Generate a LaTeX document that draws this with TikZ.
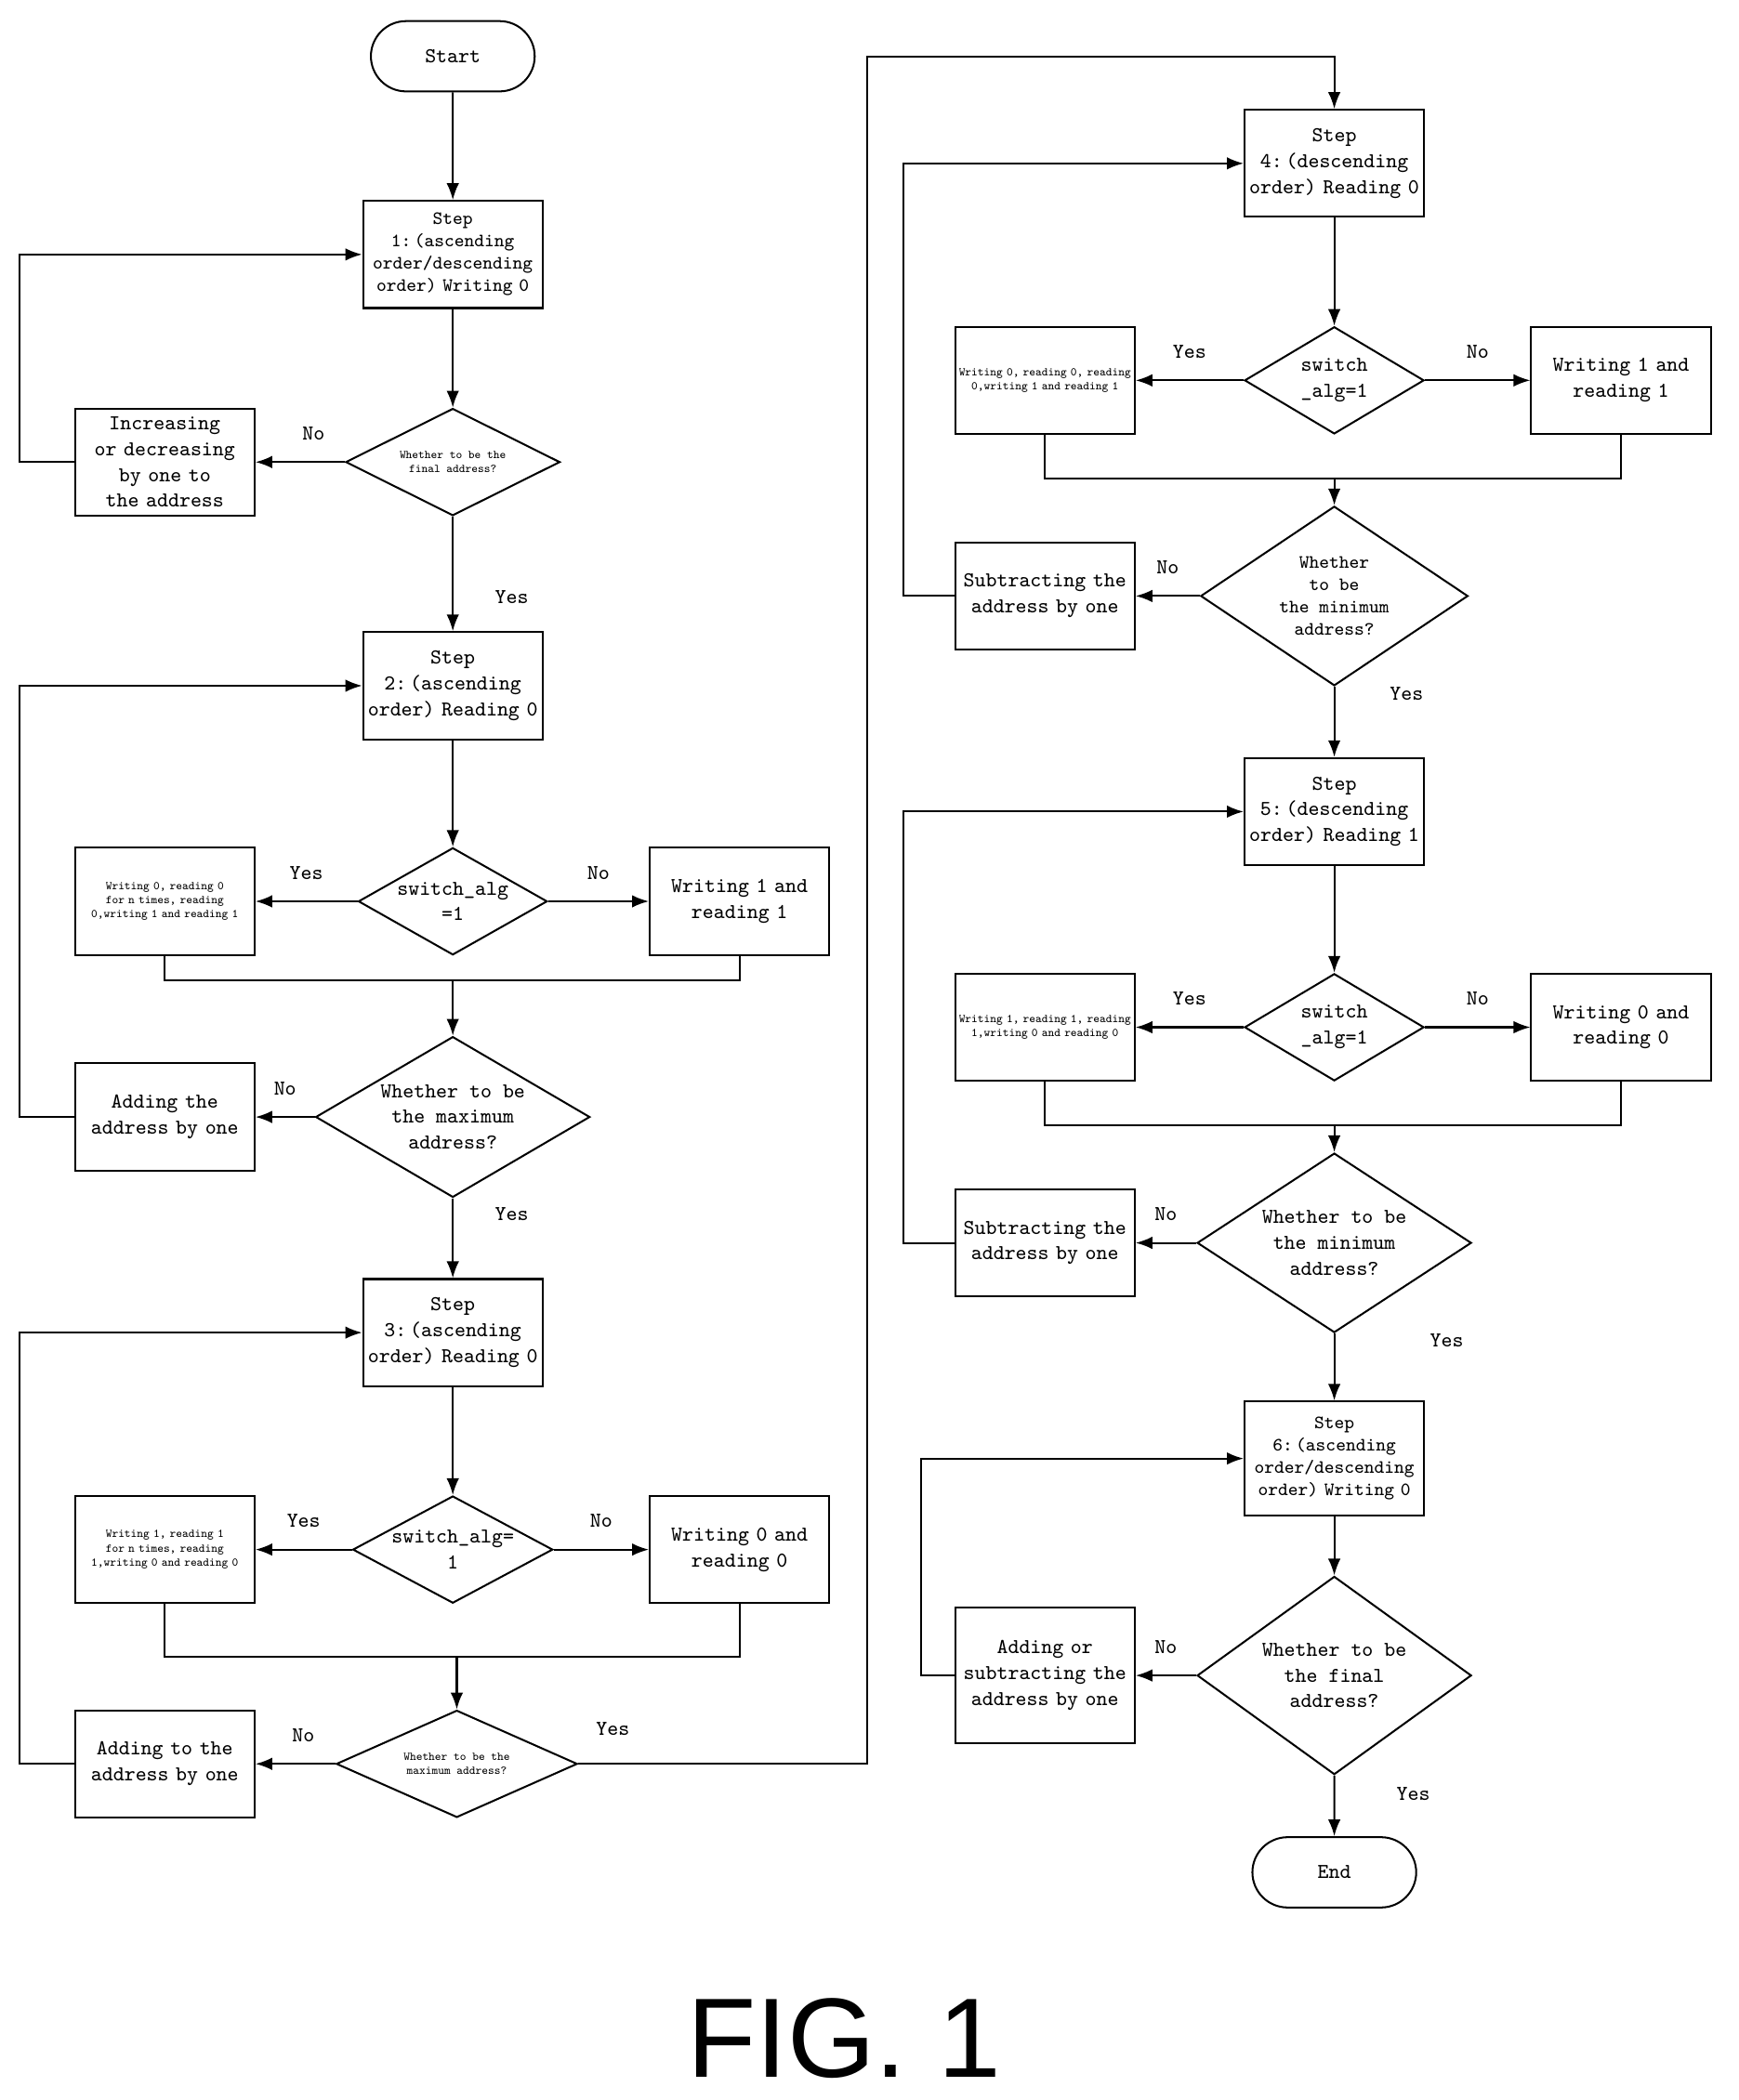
\documentclass[tikz,border=0pt]{standalone}
\usepackage{fontspec}
\newfontfamily\figfont{Liberation Sans}
\usetikzlibrary{arrows.meta,positioning,shapes.geometric,shapes.misc,calc}
\begin{document}
\begin{tikzpicture}[x=0.02cm,y=-0.02cm,font=\ttfamily\small,
	box/.style={draw,thick,minimum width=2.68cm,minimum height=1.6cm,text width=2.62cm,align=center,inner sep=0.5pt},
	small/.style={font=\ttfamily\footnotesize},
	tiny/.style={font=\ttfamily\tiny},
	term/.style={draw,thick,rounded rectangle,minimum width=2.68cm,minimum height=1.05cm},
	dec/.style={draw,thick,diamond,aspect=2,inner sep=0pt,align=center},
	arr/.style={thick,-{Latex[length=2.5mm]}},
	ln/.style={thick},
	lab/.style={font=\ttfamily\small}]
	\useasboundingbox (0,0) rectangle (1298,1568);
	% left column
	\node [term](start_node) at (338,42) {Start};
	\node [box,small](s1_node) at (338,190) {Step\\1:\,(ascending order/descending order) Writing 0};
	\node [dec,minimum width=3.2cm,minimum height=1.6cm,tiny](d1_node) at (338,345) {Whether to be the\\final address?};
	\node [box](inc_node) at (123,345) {Increasing or decreasing by one to the address};
	\node [box](s2_node) at (338,512) {Step\\2:\,(ascending order) Reading 0};
	\node [dec,minimum width=2.68cm,minimum height=1.6cm](sw2_node) at (338,673) {switch\_alg\\=1};
	\node [box,tiny](y2_node) at (123,673) {Writing 0, reading 0 for n times, reading 0,writing 1 and reading 1};
	\node [box](n2_node) at (552,673) {Writing 1 and reading 1};
	\node [dec,minimum width=3.2cm,minimum height=2.4cm](d2_node) at (338,834) {Whether to be\\the maximum\\address?};
	\node [box](add2_node) at (123,834) {Adding the address by one};
	\node [box](s3_node) at (338,995) {Step\\3:\,(ascending order) Reading 0};
	\node [dec,minimum width=2.68cm,minimum height=1.6cm](sw3_node) at (338,1157) {switch\_alg=\\1};
	\node [box,tiny](y3_node) at (123,1157) {Writing 1, reading 1 for n times, reading 1,writing 0 and reading 0};
	\node [box](n3_node) at (552,1157) {Writing 0 and reading 0};
	\node [dec,minimum width=3.6cm,minimum height=1.6cm,tiny](d3_node) at (341,1317) {Whether to be the\\maximum address?};
	\node [box](add3_node) at (123,1317) {Adding to the address by one};
	% right column
	\node [box](s4_node) at (996,122) {Step\\4:\,(descending order) Reading 0};
	\node [dec,minimum width=2.68cm,minimum height=1.6cm](sw4_node) at (996,284) {switch\\\_alg=1};
	\node [box,tiny](y4_node) at (780,284) {Writing 0, reading 0, reading 0,writing 1 and reading 1};
	\node [box](n4_node) at (1210,284) {Writing 1 and reading 1};
	\node [dec,minimum width=3.2cm,minimum height=2.68cm,small](d4_node) at (996,445) {Whether\\to be\\the minimum\\address?};
	\node [box](sub4_node) at (780,445) {Subtracting the address by one};
	\node [box](s5_node) at (996,606) {Step\\5:\,(descending order) Reading 1};
	\node [dec,minimum width=2.68cm,minimum height=1.6cm](sw5_node) at (996,767) {switch\\\_alg=1};
	\node [box,tiny](y5_node) at (780,767) {Writing 1, reading 1, reading 1,writing 0 and reading 0};
	\node [box](n5_node) at (1210,767) {Writing 0 and reading 0};
	\node [dec,minimum width=3.76cm,minimum height=2.68cm](d5_node) at (996,928) {Whether to be\\the minimum\\address?};
	\node [box](sub5_node) at (780,928) {Subtracting the address by one};
	\node [box,minimum height=1.7cm,small](s6_node) at (996,1089) {Step\\6:\,(ascending order/descending order) Writing 0};
	\node [dec,minimum width=3.2cm,minimum height=2.96cm](d6_node) at (996,1251) {Whether to be\\the final\\address?};
	\node [box,minimum height=2.02cm](addsub_node) at (780,1251) {Adding or subtracting the address by one};
	\node [term](end_node) at (996,1398) {End};
	\node [font=\figfont\fontsize{48}{48}\selectfont](fig_node) at (630,1522) {FIG. 1};
	% merge points
	\coordinate (m2) at (338,732);
	\coordinate (m3) at (341,1237);
	\coordinate (m4) at (996,357);
	\coordinate (m5) at (996,840);
	% left connectors
	\draw [arr] (start_node) -- (s1_node);
	\draw [arr] (s1_node) -- (d1_node);
	\draw [arr] (d1_node) -- node [pos=0.35,lab,above=2mm] {No} (inc_node) ;
	\draw [arr] (inc_node.west) -- ++(-41,0) |- (s1_node.west);
	\draw [arr] (d1_node) -- node [pos=0.7,lab,right=5mm] {Yes} (s2_node);
	\draw [arr] (s2_node) -- (sw2_node);
	\draw [arr] (sw2_node) -- node [lab,above=2mm] {Yes} (y2_node);
	\draw [arr] (sw2_node) -- node [lab,above=2mm] {No} (n2_node);
	\draw [ln] (y2_node.south) |- (m2) -| (n2_node.south);
	\draw [arr] (m2) -- (d2_node);
	\draw [arr] (d2_node) -- node [lab,above=2mm] {No} (add2_node);
	\draw [arr] (add2_node.west) -- ++(-41,0) |- (s2_node.west);
	\draw [arr] (d2_node) -- node [pos=0.2,lab,right=5mm] {Yes} (s3_node);
	\draw [arr] (s3_node) -- (sw3_node);
	\draw [arr] (sw3_node) -- node [lab,above=2mm] {Yes} (y3_node);
	\draw [arr] (sw3_node) -- node [lab,above=2mm] {No} (n3_node);
	\draw [ln] (y3_node.south) |- (m3) -| (n3_node.south);
	\draw [arr] (m3) -- (d3_node);
	\draw [arr] (d3_node) -- node [pos=0.4,lab,above=2mm] {No} (add3_node);
	\draw [arr] (add3_node.west) -- ++(-41,0) |- (s3_node.west);
	\draw [arr] (d3_node.east) -- node [pos=0.12,lab,above=3mm] {Yes} (647,1317) |- (996,42) -- (s4_node);
	% right connectors
	\draw [arr] (s4_node) -- (sw4_node);
	\draw [arr] (sw4_node) -- node [lab,above=2mm] {Yes} (y4_node);
	\draw [arr] (sw4_node) -- node [lab,above=2mm] {No} (n4_node);
	\draw [ln] (y4_node.south) |- (m4) -| (n4_node.south);
	\draw [arr] (m4) -- (d4_node);
	\draw [arr] (d4_node) -- node [lab,above=2mm] {No} (sub4_node);
	\draw [arr] (sub4_node.west) -- ++(-38,0) |- (s4_node.west);
	\draw [arr] (d4_node) -- node [pos=0.1,lab,right=7mm] {Yes} (s5_node);
	\draw [arr] (s5_node) -- (sw5_node);
	\draw [arr] (sw5_node) -- node [lab,above=2mm] {Yes} (y5_node);
	\draw [arr] (sw5_node) -- node [lab,above=2mm] {No} (n5_node);
	\draw [ln] (y5_node.south) |- (m5) -| (n5_node.south);
	\draw [arr] (m5) -- (d5_node);
	\draw [arr] (d5_node) -- node [lab,above=2mm] {No} (sub5_node);
	\draw [arr] (sub5_node.west) -- ++(-38,0) |- (s5_node.west);
	\draw [arr] (d5_node) -- node [pos=0.1,lab,right=1.3cm] {Yes} (s6_node);
	\draw [arr] (s6_node) -- (d6_node);
	\draw [arr] (d6_node) -- node [lab,above=2mm] {No} (addsub_node);
	\draw [arr] (addsub_node.west) -- ++(-25,0) |- (s6_node.west);
	\draw [arr] (d6_node) -- node [pos=0.3,lab,right=8mm] {Yes} (end_node);
\end{tikzpicture}
\end{document}
